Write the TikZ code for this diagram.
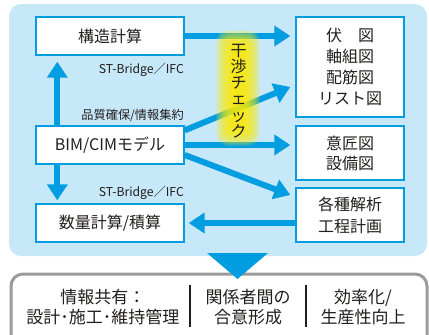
\documentclass[tikz,border=0pt]{standalone}
\usepackage{fontspec}
\setmainfont{Noto Sans CJK JP}
\usetikzlibrary{arrows.meta,calc}
\definecolor{panelblue}{RGB}{199,232,248}
\definecolor{arrowblue}{RGB}{0,158,225}
\definecolor{txt}{RGB}{35,30,30}
\definecolor{graybd}{RGB}{155,155,155}
\definecolor{glowy}{RGB}{255,238,0}
\tikzset{
  box/.style={draw=arrowblue, line width=1.4pt, fill=white, inner sep=0pt, align=center, text=txt},
  bigarrow/.style={draw=arrowblue, line width=6pt, -{Triangle[width=20pt,length=16pt]}},
  lbl/.style={text=txt, inner sep=0pt, font=\fontsize{12.2}{14}\selectfont},
  btxt/.style={text=txt, inner sep=0pt, align=center, font=\fontsize{17}{20}\selectfont},
  boxtxt/.style={font=\fontsize{16}{21}\selectfont}
}
\begin{document}
\begin{tikzpicture}[x=1pt,y=-1pt]
\useasboundingbox (0,0) rectangle (429,335);
% panel
\fill[panelblue, rounded corners=12pt] (9,4) rectangle (427,256);
% boxes
\node[box, boxtxt, minimum width=148pt, minimum height=38pt] (kozo) at (110,36) {構造計算};
\node[box, boxtxt, minimum width=148pt, minimum height=38pt] (bim) at (110,145) {BIM/CIMモデル};
\node[box, boxtxt, minimum width=148pt, minimum height=38pt] (suryo) at (110,223) {数量計算/積算};
\node[box, minimum width=108pt, minimum height=100pt, font=\fontsize{16}{21}\selectfont] (fuzu) at (350,67) {伏　図\\軸組図\\配筋図\\リスト図};
\node[box, minimum width=108pt, minimum height=54pt, font=\fontsize{16}{20}\selectfont] (isho) at (350,153) {意匠図\\設備図};
\node[box, minimum width=108pt, minimum height=54pt, font=\fontsize{16}{22}\selectfont] (kaiseki) at (350,215) {各種解析\\工程計画};
% labels
\node[lbl, anchor=east] (st1) at (184,70) {ST-Bridge／IFC};
\node[lbl, anchor=east] (hin) at (184,115.5) {品質確保/情報集約};
\node[lbl, anchor=east] (st2) at (184,193) {ST-Bridge／IFC};
% arrow end coordinates
\coordinate (d1s) at ($(bim.north east)+(0,5)$);
\coordinate (d1e) at ($(fuzu.west)+(-5,20)$);
\coordinate (d2s) at ($(bim.east)+(0,10)$);
\coordinate (d2e) at ($(kaiseki.west)+(-5,-20)$);
\coordinate (vup1) at ($(bim.north west)+(22,0)$);
\coordinate (vup2) at ($(kozo.south west)+(22,0)$);
\coordinate (vdn1) at ($(bim.south west)+(22,0)$);
\coordinate (vdn2) at ($(suryo.north west)+(22,0)$);
% arrows
\draw[bigarrow, shorten >=5pt] (kozo.east) -- (fuzu.west |- kozo.east);
\draw[bigarrow] (d1s) -- (d1e);
\draw[bigarrow, shorten >=5pt] (bim.east) -- (isho.west |- bim.east);
\draw[bigarrow] (d2s) -- (d2e);
\draw[bigarrow, shorten >=4pt] (kaiseki.west |- suryo.east) -- (suryo.east);
\draw[bigarrow, shorten >=6pt] (vup1) -- (vup2);
\draw[bigarrow, shorten >=3pt] (vdn1) -- (vdn2);
% glow
\foreach \i in {0,...,15}{
  \fill[glowy, fill opacity=0.12, rounded corners={12pt-0.6pt*\i}]
    ({238-22+1.1*\i},{88-58+1.1*\i}) rectangle ({238+22-1.1*\i},{88+58-1.1*\i});
}
\node[text=txt, inner sep=0pt, align=center, font=\fontsize{16}{16.3}\selectfont] (kansho) at (238.5,91) {干\\渉\\チ\\ェ\\ッ\\ク};
% bottom box
\draw[graybd, line width=3pt, fill=white, rounded corners=12pt] (11,274) rectangle (427,350);
\coordinate (triL) at (207,253);
\coordinate (triR) at (268,253);
\coordinate (triT) at (237.5,279);
\fill[arrowblue] (triL) -- (triR) -- (triT) -- cycle;
\coordinate (dv1a) at (190,285);
\coordinate (dv1b) at (190,327);
\coordinate (dv2a) at (306,285);
\coordinate (dv2b) at (306,327);
\draw[txt, line width=2pt] (dv1a) -- (dv1b);
\draw[txt, line width=2pt] (dv2a) -- (dv2b);
\node[btxt] (c1) at (103,307) {情報共有：\\設計･施工･維持管理};
\node[btxt] (c2) at (248,307) {関係者間の\\合意形成};
\node[btxt] (c3) at (363,307) {効率化/\\生産性向上};
\end{tikzpicture}
\end{document}
